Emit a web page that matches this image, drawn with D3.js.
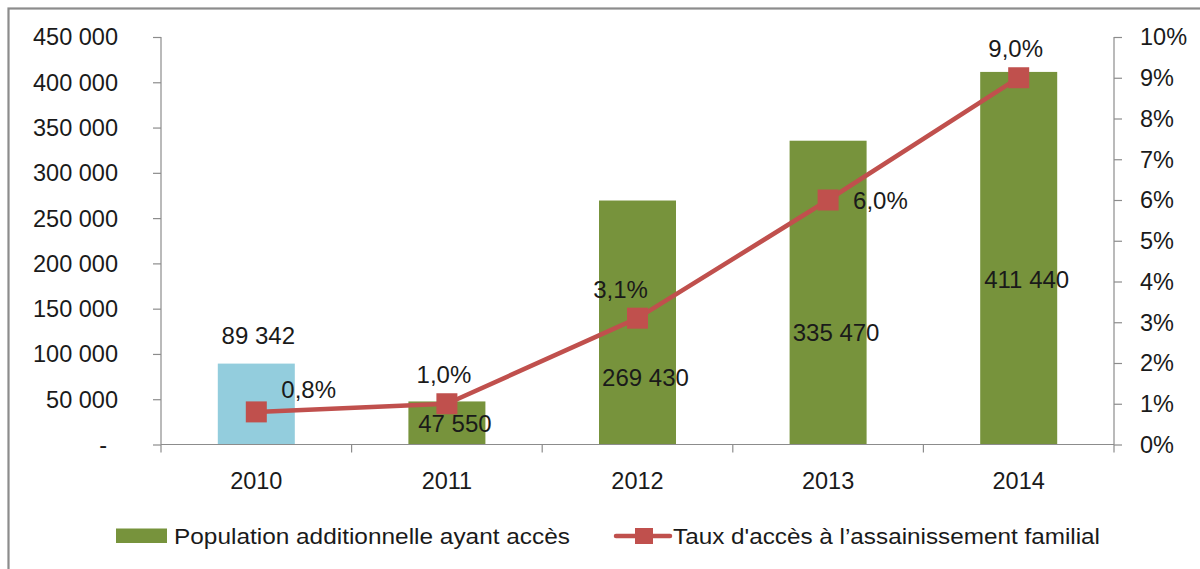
<!DOCTYPE html>
<html>
<head>
<meta charset="utf-8">
<script src="https://cdn.jsdelivr.net/npm/d3@7"></script>
<style>
  html, body { margin: 0; padding: 0; background: #fff; }
  svg { display: block; }
  text { font-family: "Liberation Sans", Arial, sans-serif; fill: #1a1a1a; }
</style>
</head>
<body>
<svg id="chart" width="1200" height="569"></svg>
<script>
// ---- Data ----
const years = ["2010", "2011", "2012", "2013", "2014"];
const population = [89342, 47550, 269430, 335470, 411440];
const populationLabels = ["89 342", "47 550", "269 430", "335 470", "411 440"];
const rate = [0.008, 0.010, 0.031, 0.060, 0.090];
const rateLabels = ["0,8%", "1,0%", "3,1%", "6,0%", "9,0%"];
const leftTicks = [0, 50000, 100000, 150000, 200000, 250000, 300000, 350000, 400000, 450000];
const leftTickLabels = ["-", "50 000", "100 000", "150 000", "200 000", "250 000", "300 000", "350 000", "400 000", "450 000"];
const rightTicks = [0, 0.01, 0.02, 0.03, 0.04, 0.05, 0.06, 0.07, 0.08, 0.09, 0.10];
const rightTickLabels = ["0%", "1%", "2%", "3%", "4%", "5%", "6%", "7%", "8%", "9%", "10%"];
const seriesNames = ["Population additionnelle ayant accès", "Taux d'accès à l\u2019assainissement familial"];

// ---- Styling / label placement config ----
const barColors = ["#93CDDD", "#77933C", "#77933C", "#77933C", "#77933C"];
const lineColor = "#C0504D";
const barLabelAnchor = [120000, 23500, 74000, 124000, 182500]; // where label sits (data units)
const rateLabelPos = ["right", "above", "aboveLeft", "right", "above"];

const svg = d3.select("#chart");
const pLeft = 161, pRight = 1114, pTop = 37, pBottom = 444.5;

const x = d3.scaleBand().domain(years).range([pLeft, pRight]).paddingInner(0.596).paddingOuter(0.298);
const yL = d3.scaleLinear().domain([0, 450000]).range([pBottom, pTop]);
const yR = d3.scaleLinear().domain([0, 0.10]).range([pBottom, pTop]);

// outer frame
svg.append("rect").attr("x", 8.5).attr("y", 8.5).attr("width", 1300).attr("height", 700)
  .attr("fill", "none").attr("stroke", "#8c8c8c").attr("stroke-width", 2.2);

// bars
svg.append("g").selectAll("rect").data(population).join("rect")
  .attr("x", (d, i) => x(years[i]))
  .attr("width", x.bandwidth())
  .attr("y", d => yL(d))
  .attr("height", d => yL(0) - yL(d))
  .attr("fill", (d, i) => barColors[i]);

// left axis
const gL = svg.append("g").attr("transform", `translate(${pLeft},0)`)
  .call(d3.axisLeft(yL).tickValues(leftTicks).tickSize(8).tickPadding(0).tickFormat(""));
gL.selectAll("path, line").attr("stroke", "#8c8c8c").attr("stroke-width", 1.2);
gL.select(".domain").attr("d", `M0,${pBottom}V${pTop}`);
svg.append("g").selectAll("text").data(leftTicks).join("text")
  .attr("x", (d, i) => i === 0 ? 107 : 118)
  .attr("y", d => yL(d))
  .attr("dy", "0.36em")
  .attr("text-anchor", "end")
  .style("font-size", "23.5px")
  .text((d, i) => leftTickLabels[i]);

// right axis
const gR = svg.append("g").attr("transform", `translate(${pRight},0)`)
  .call(d3.axisRight(yR).tickValues(rightTicks).tickSize(8).tickFormat(""));
gR.selectAll("path, line").attr("stroke", "#8c8c8c").attr("stroke-width", 1.2);
gR.select(".domain").attr("d", `M0,${pBottom}V${pTop}`);
svg.append("g").selectAll("text").data(rightTicks).join("text")
  .attr("x", 1140)
  .attr("y", d => yR(d))
  .attr("dy", "0.36em")
  .attr("text-anchor", "start")
  .style("font-size", "23.5px")
  .text((d, i) => rightTickLabels[i]);

// bottom axis
const step = x.step();
const gB = svg.append("g").attr("transform", `translate(0,${pBottom})`);
gB.append("line").attr("x1", pLeft).attr("x2", pRight).attr("stroke", "#8c8c8c").attr("stroke-width", 1.2);
gB.selectAll("line.tick").data(d3.range(years.length + 1)).join("line")
  .attr("class", "tick")
  .attr("x1", i => pLeft + i * step).attr("x2", i => pLeft + i * step)
  .attr("y1", 0).attr("y2", 8)
  .attr("stroke", "#8c8c8c").attr("stroke-width", 1.2);
gB.selectAll("text").data(years).join("text")
  .attr("x", d => x(d) + x.bandwidth() / 2)
  .attr("y", 36)
  .attr("dy", "0.36em")
  .attr("text-anchor", "middle")
  .style("font-size", "23.5px")
  .text(d => d);

// bar value labels
svg.append("g").selectAll("text").data(population).join("text")
  .attr("x", (d, i) => x(years[i]) + x.bandwidth() / 2 + (i === 0 ? 2 : 8))
  .attr("y", (d, i) => yL(barLabelAnchor[i]))
  .attr("dy", "0.36em")
  .attr("text-anchor", "middle")
  .style("font-size", "24px")
  .text((d, i) => populationLabels[i]);

// line
const cx = (i) => x(years[i]) + x.bandwidth() / 2;
const line = d3.line().x((d, i) => cx(i)).y(d => yR(d));
svg.append("path").datum(rate).attr("d", line)
  .attr("fill", "none").attr("stroke", lineColor).attr("stroke-width", 4.5)
  .attr("stroke-linejoin", "round");
svg.append("g").selectAll("rect").data(rate).join("rect")
  .attr("x", (d, i) => cx(i) - 10.5)
  .attr("y", d => yR(d) - 10.5)
  .attr("width", 21).attr("height", 21)
  .attr("fill", lineColor);

// rate labels
svg.append("g").selectAll("text").data(rate).join("text")
  .attr("x", (d, i) => {
    const p = rateLabelPos[i];
    if (p === "right") return cx(i) + 25;
    if (p === "aboveLeft") return cx(i) - 17;
    return cx(i) - 3;
  })
  .attr("y", (d, i) => {
    const p = rateLabelPos[i];
    if (p === "right") return yR(d) - (i === 0 ? 23 : 0);
    return yR(d) - 29;
  })
  .attr("dy", "0.36em")
  .attr("text-anchor", (d, i) => rateLabelPos[i] === "right" ? "start" : "middle")
  .style("font-size", "24px")
  .text((d, i) => rateLabels[i]);

// legend
const lg = svg.append("g");
lg.append("rect").attr("x", 116).attr("y", 528.5).attr("width", 51).attr("height", 14.5).attr("fill", "#77933C");
lg.append("text").attr("x", 174).attr("y", 536).attr("dy", "0.36em")
  .style("font-size", "22px")
  .attr("textLength", 396).attr("lengthAdjust", "spacingAndGlyphs")
  .text(seriesNames[0]);
lg.append("line").attr("x1", 616).attr("x2", 670).attr("y1", 536).attr("y2", 536)
  .attr("stroke", lineColor).attr("stroke-width", 4.5).attr("stroke-linecap", "round");
lg.append("rect").attr("x", 635).attr("y", 528).attr("width", 18).attr("height", 16).attr("fill", lineColor);
lg.append("text").attr("x", 673).attr("y", 536).attr("dy", "0.36em")
  .style("font-size", "22px")
  .attr("textLength", 427).attr("lengthAdjust", "spacingAndGlyphs")
  .text(seriesNames[1]);
</script>
</body>
</html>
